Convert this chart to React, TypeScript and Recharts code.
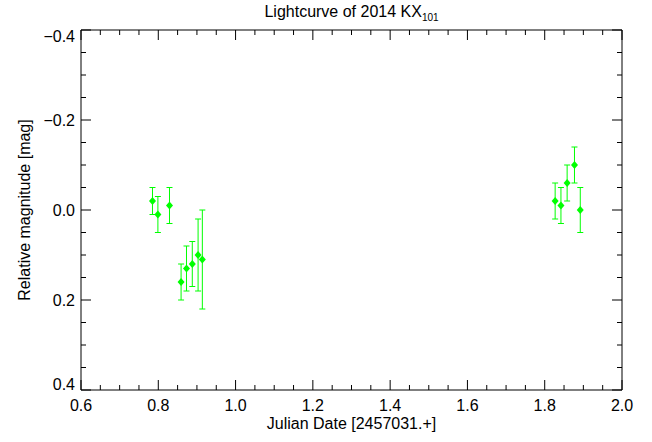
import React from 'react';
import { ScatterChart, Scatter, XAxis, YAxis, ErrorBar, Label } from 'recharts';

// Julian date offset from 2457031 and relative magnitude with 1-sigma errors
const julianDate = [0.785, 0.799, 0.829, 0.859, 0.873, 0.888, 0.903, 0.914, 1.827, 1.842, 1.858, 1.877, 1.892];
const relMag = [-0.02, 0.01, -0.01, 0.16, 0.13, 0.12, 0.10, 0.11, -0.02, -0.01, -0.06, -0.10, 0.0];
const magErr = [0.03, 0.04, 0.04, 0.04, 0.05, 0.05, 0.08, 0.11, 0.04, 0.04, 0.04, 0.04, 0.05];

const xMajor = [0.6, 0.8, 1.0, 1.2, 1.4, 1.6, 1.8, 2.0];
const xTicks = [0.6, 0.65, 0.7, 0.75, 0.8, 0.85, 0.9, 0.95, 1.0, 1.05, 1.1, 1.15, 1.2, 1.25, 1.3, 1.35, 1.4, 1.45, 1.5, 1.55, 1.6, 1.65, 1.7, 1.75, 1.8, 1.85, 1.9, 1.95, 2.0];
const yMajor = [-0.4, -0.2, 0.0, 0.2, 0.4];
const yTicks = [-0.4, -0.35, -0.3, -0.25, -0.2, -0.15, -0.1, -0.05, 0.0, 0.05, 0.1, 0.15, 0.2, 0.25, 0.3, 0.35, 0.4];

const data = julianDate.map((jd, i) => ({ jd, mag: relMag[i], err: magErr[i] }));

const FONT = '"Liberation Sans", Arial, Helvetica, sans-serif';
const FS = 16;
const GREEN = '#00ff00';
const MAJOR = 10;
const MINOR = 5;

const isMajor = (v: number, list: number[]) => list.some(m => Math.abs(m - v) < 1e-6);
const fmt = (v: number) => (v < -1e-9 ? '\u2212' : '') + Math.abs(v).toFixed(1);

const BottomTick = ({ x, y, payload }: any) => {
  const major = isMajor(payload.value, xMajor);
  return (
    <g>
      <line x1={x} y1={y} x2={x} y2={y - (major ? MAJOR : MINOR)} stroke="#000" />
      {major && (
        <text x={x} y={y + 21} textAnchor="middle" fontSize={FS} fontFamily={FONT} fill="#000">
          {fmt(payload.value)}
        </text>
      )}
    </g>
  );
};

const TopTick = ({ x, y, payload }: any) => {
  const major = isMajor(payload.value, xMajor);
  return <line x1={x} y1={y} x2={x} y2={y + (major ? MAJOR : MINOR)} stroke="#000" />;
};

const LeftTick = ({ x, y, payload }: any) => {
  const v = payload.value;
  const major = isMajor(v, yMajor);
  // IDL nudges the end labels inside the frame
  const dy = Math.abs(v + 0.4) < 1e-6 ? 12 : Math.abs(v - 0.4) < 1e-6 ? 0 : 6;
  return (
    <g>
      <line x1={x} y1={y} x2={x + (major ? MAJOR : MINOR)} y2={y} stroke="#000" />
      {major && (
        <text x={x - 6} y={y + dy} textAnchor="end" fontSize={FS} fontFamily={FONT} fill="#000">
          {fmt(v)}
        </text>
      )}
    </g>
  );
};

const RightTick = ({ x, y, payload }: any) => {
  const major = isMajor(payload.value, yMajor);
  return <line x1={x} y1={y} x2={x - (major ? MAJOR : MINOR)} y2={y} stroke="#000" />;
};

const Diamond = ({ cx, cy }: any) => (
  <polygon points={`${cx},${cy - 4} ${cx + 3.5},${cy} ${cx},${cy + 4} ${cx - 3.5},${cy}`} fill={GREEN} />
);

const Nothing = () => <g />;

const TitleLabel = ({ viewBox }: any) => (
  <text x={viewBox.x + viewBox.width / 2} y={viewBox.y - 12} textAnchor="middle" fontSize={FS} fontFamily={FONT} fill="#000">
    Lightcurve of 2014 KX<tspan fontSize={10} dy={4}>101</tspan>
  </text>
);

const YLabel = ({ viewBox }: any) => {
  const x = viewBox.x + 24;
  const y = viewBox.y + viewBox.height / 2;
  return (
    <text x={x} y={y} transform={`rotate(-90 ${x} ${y})`} textAnchor="middle" dominantBaseline="central" fontSize={FS} fontFamily={FONT} fill="#000">
      Relative magnitude [mag]
    </text>
  );
};

const XLabel = ({ viewBox }: any) => (
  <text x={viewBox.x + viewBox.width / 2} y={viewBox.y + 39} textAnchor="middle" fontSize={FS} fontFamily={FONT} fill="#000">
    Julian Date [2457031.+]
  </text>
);

export default function App() {
  return (
    <div style={{ width: 652, height: 442, background: '#fff' }}>
      <style>{'body{margin:0}'}</style>
      <ScatterChart width={652} height={442} margin={{ top: 29, right: 29, bottom: 0, left: 0 }}>
        <XAxis
          xAxisId="bottom"
          dataKey="jd"
          type="number"
          domain={[0.6, 2.0]}
          allowDataOverflow
          ticks={xTicks}
          interval={0}
          height={52}
          tickSize={0}
          tickMargin={0}
          tickLine={false}
          axisLine={{ stroke: '#000' }}
          tick={<BottomTick />}
        >
          <Label content={<XLabel />} />
        </XAxis>
        {/* 1px-high top axis: zero-size axes are not drawn */}
        <XAxis
          xAxisId="top"
          dataKey="jd"
          orientation="top"
          type="number"
          domain={[0.6, 2.0]}
          allowDataOverflow
          ticks={xTicks}
          interval={0}
          height={1}
          tickSize={0}
          tickMargin={0}
          tickLine={false}
          axisLine={{ stroke: '#000' }}
          tick={<TopTick />}
        >
          <Label content={<TitleLabel />} />
        </XAxis>
        <YAxis
          yAxisId="left"
          dataKey="mag"
          type="number"
          domain={[-0.4, 0.4]}
          reversed
          allowDataOverflow
          ticks={yTicks}
          interval={0}
          width={81}
          tickSize={0}
          tickMargin={0}
          tickLine={false}
          axisLine={{ stroke: '#000' }}
          tick={<LeftTick />}
        >
          <Label content={<YLabel />} />
        </YAxis>
        <YAxis
          yAxisId="right"
          dataKey="mag"
          orientation="right"
          type="number"
          domain={[-0.4, 0.4]}
          reversed
          allowDataOverflow
          ticks={yTicks}
          interval={0}
          width={1}
          tickSize={0}
          tickMargin={0}
          tickLine={false}
          axisLine={{ stroke: '#000' }}
          tick={<RightTick />}
        />
        {/* invisible series so the top and right frame axes get drawn */}
        <Scatter data={data} xAxisId="top" yAxisId="right" shape={<Nothing />} isAnimationActive={false} />
        <Scatter data={data} xAxisId="bottom" yAxisId="left" shape={<Diamond />} isAnimationActive={false}>
          <ErrorBar dataKey="err" direction="y" width={3} stroke={GREEN} strokeWidth={1} isAnimationActive={false} />
        </Scatter>
      </ScatterChart>
    </div>
  );
}
